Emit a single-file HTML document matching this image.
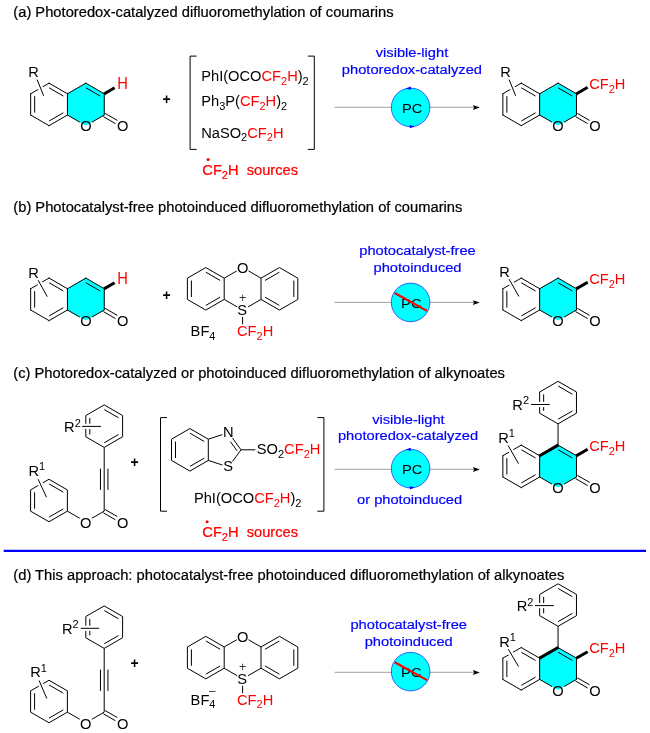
<!DOCTYPE html>
<html><head><meta charset="utf-8"><title>Difluoromethylation scheme</title>
<style>
html,body{margin:0;padding:0;background:#fff}
svg{display:block;will-change:transform}
text{font-family:"Liberation Sans",sans-serif;}
</style></head><body>
<svg width="650" height="733" viewBox="0 0 650 733">
<rect width="650" height="733" fill="#fff"/>
<text transform="translate(13.3 16.5) scale(1 0.94)" font-size="14.73" text-anchor="start" stroke-width="0.22" class="b"><tspan fill="#000" stroke="#000">(a) Photoredox-catalyzed difluoromethylation of coumarins</tspan></text>
<text transform="translate(13.3 211.5) scale(1 0.94)" font-size="14.73" text-anchor="start" stroke-width="0.22" class="b"><tspan fill="#000" stroke="#000">(b) Photocatalyst-free photoinduced difluoromethylation of coumarins</tspan></text>
<text transform="translate(13.3 377.5) scale(1 0.94)" font-size="14.73" text-anchor="start" stroke-width="0.22" class="b"><tspan fill="#000" stroke="#000">(c) Photoredox-catalyzed or photoinduced difluoromethylation of alkynoates</tspan></text>
<text transform="translate(13.3 579.9) scale(1 0.94)" font-size="14.73" text-anchor="start" stroke-width="0.22" class="b"><tspan fill="#000" stroke="#000">(d) This approach: photocatalyst-free photoinduced difluoromethylation of alkynoates</tspan></text>
<line x1="3.7" y1="550.8" x2="646" y2="550.8" stroke="#0000ff" stroke-width="2.2" stroke-linecap="butt"/>
<polygon points="85.86,83.15 104.26,93.78 104.26,115.03 85.86,125.65 67.45,115.03 67.45,93.78" fill="#00ffff"/>
<line x1="49.05" y1="83.15" x2="67.45" y2="93.78" stroke="#000" stroke-width="1" stroke-linecap="round"/>
<line x1="67.45" y1="93.78" x2="67.45" y2="115.03" stroke="#000" stroke-width="1" stroke-linecap="round"/>
<line x1="67.45" y1="115.03" x2="49.05" y2="125.65" stroke="#000" stroke-width="1" stroke-linecap="round"/>
<line x1="49.05" y1="125.65" x2="30.65" y2="115.03" stroke="#000" stroke-width="1" stroke-linecap="round"/>
<line x1="30.65" y1="115.03" x2="30.65" y2="93.78" stroke="#000" stroke-width="1" stroke-linecap="round"/>
<line x1="30.65" y1="93.78" x2="49.05" y2="83.15" stroke="#000" stroke-width="1" stroke-linecap="round"/>
<line x1="49.13" y1="87.81" x2="63.37" y2="96.04" stroke="#000" stroke-width="1" stroke-linecap="butt"/>
<line x1="63.37" y1="112.76" x2="49.13" y2="120.99" stroke="#000" stroke-width="1" stroke-linecap="butt"/>
<line x1="34.65" y1="112.62" x2="34.65" y2="96.18" stroke="#000" stroke-width="1" stroke-linecap="butt"/>
<line x1="67.45" y1="93.78" x2="85.86" y2="83.15" stroke="#000" stroke-width="1" stroke-linecap="round"/>
<line x1="85.86" y1="83.15" x2="104.26" y2="93.78" stroke="#000" stroke-width="1" stroke-linecap="round"/>
<line x1="85.93" y1="87.81" x2="100.18" y2="96.04" stroke="#000" stroke-width="1" stroke-linecap="butt"/>
<line x1="104.26" y1="93.78" x2="104.26" y2="115.03" stroke="#000" stroke-width="1" stroke-linecap="round"/>
<line x1="104.26" y1="115.03" x2="91.92" y2="122.15" stroke="#000" stroke-width="1" stroke-linecap="butt"/>
<line x1="67.45" y1="115.03" x2="79.79" y2="122.15" stroke="#000" stroke-width="1" stroke-linecap="butt"/>
<text transform="translate(85.86 131.4) scale(1 1.04)" font-size="14.67" text-anchor="middle"><tspan fill="#000">O</tspan></text>
<line x1="105.18" y1="113.42" x2="117.35" y2="120.45" stroke="#000" stroke-width="1" stroke-linecap="butt"/>
<line x1="103.33" y1="116.63" x2="115.5" y2="123.65" stroke="#000" stroke-width="1" stroke-linecap="butt"/>
<text transform="translate(122.66 131.4) scale(1 1.04)" font-size="14.67" text-anchor="middle"><tspan fill="#000">O</tspan></text>
<line x1="104" y1="93.93" x2="114.61" y2="87.8" stroke="#000" stroke-width="3" stroke-linecap="butt"/>
<text transform="translate(122.46 88.8) scale(1 1.1)" font-size="14.67" text-anchor="middle"><tspan fill="#ff0000">H</tspan></text>
<text transform="translate(28.35 76.8)" font-size="14.67" text-anchor="start"><tspan fill="#000">R</tspan></text>
<line x1="37.1" y1="79.6" x2="43.7" y2="95.8" stroke="#fff" stroke-width="5.2" stroke-linecap="butt"/>
<line x1="37.1" y1="79.6" x2="43.7" y2="95.8" stroke="#000" stroke-width="1" stroke-linecap="butt"/>
<text x="166.6" y="104.4" font-size="14" font-weight="bold" text-anchor="middle" fill="#000">+</text>
<path d="M196.6 56.1H190.1V149.4H196.6M307.8 56.1H314.3V149.4H307.8" fill="none" stroke="#000" stroke-width="1"/>
<text transform="translate(201.2 81)" font-size="14.67" text-anchor="start"><tspan fill="#000">PhI(OCO</tspan><tspan fill="#ff0000">CF</tspan><tspan fill="#ff0000" dy="3.7" font-size="11">2</tspan><tspan fill="#ff0000" dy="-3.7">H</tspan><tspan fill="#000">)</tspan><tspan fill="#000" dy="3.7" font-size="11">2</tspan></text>
<text transform="translate(201.2 106)" font-size="14.67" text-anchor="start"><tspan fill="#000">Ph</tspan><tspan fill="#000" dy="3.7" font-size="11">3</tspan><tspan fill="#000" dy="-3.7">P(</tspan><tspan fill="#ff0000">CF</tspan><tspan fill="#ff0000" dy="3.7" font-size="11">2</tspan><tspan fill="#ff0000" dy="-3.7">H</tspan><tspan fill="#000">)</tspan><tspan fill="#000" dy="3.7" font-size="11">2</tspan></text>
<text transform="translate(201.2 137.5)" font-size="14.67" text-anchor="start"><tspan fill="#000">NaSO</tspan><tspan fill="#000" dy="3.7" font-size="11">2</tspan><tspan fill="#ff0000" dy="-3.7">CF</tspan><tspan fill="#ff0000" dy="3.7" font-size="11">2</tspan><tspan fill="#ff0000" dy="-3.7">H</tspan></text>
<text transform="translate(202.3 175) scale(1 0.95)" font-size="14.67" text-anchor="start" stroke-width="0.25" class="b"><tspan fill="#ff0000" stroke="#ff0000">CF</tspan><tspan fill="#ff0000" stroke="#ff0000" dy="3.7" font-size="11">2</tspan><tspan fill="#ff0000" stroke="#ff0000" dy="-3.7">H  sources</tspan></text>
<circle cx="208.1" cy="159.5" r="1.5" fill="#ff0000"/>
<line x1="334.5" y1="107.3" x2="474" y2="107.3" stroke="#000" stroke-width="0.38" stroke-linecap="butt"/>
<path d="M479.8 107.5L472.9 105.1L474.1 107.5L472.9 109.9Z" fill="#000"/>
<circle cx="410.6" cy="107.4" r="19.3" fill="#00ffff" stroke="#0000ff" stroke-width="0.6"/>
<path d="M405.6 88.4L410.8 86.5L410.8 89.7Z M414.8 126.4L409.8 128.3L409.8 125.1Z" fill="#0000ff"/>
<text transform="translate(412.2 112.6) scale(1 0.93)" font-size="14.67" text-anchor="middle"><tspan fill="#000">PC</tspan></text>
<text transform="translate(412 56.9) scale(1 0.92)" font-size="14.67" text-anchor="middle" stroke-width="0.2" class="b"><tspan fill="#0000ff" stroke="#0000ff">visible-light</tspan></text>
<text transform="translate(411.9 73.9) scale(1 0.92)" font-size="14.67" text-anchor="middle" stroke-width="0.2" class="b"><tspan fill="#0000ff" stroke="#0000ff">photoredox-catalyzed</tspan></text>
<polygon points="558.06,83.15 576.46,93.78 576.46,115.03 558.06,125.65 539.65,115.03 539.65,93.78" fill="#00ffff"/>
<line x1="521.25" y1="83.15" x2="539.65" y2="93.78" stroke="#000" stroke-width="1" stroke-linecap="round"/>
<line x1="539.65" y1="93.78" x2="539.65" y2="115.03" stroke="#000" stroke-width="1" stroke-linecap="round"/>
<line x1="539.65" y1="115.03" x2="521.25" y2="125.65" stroke="#000" stroke-width="1" stroke-linecap="round"/>
<line x1="521.25" y1="125.65" x2="502.85" y2="115.03" stroke="#000" stroke-width="1" stroke-linecap="round"/>
<line x1="502.85" y1="115.03" x2="502.85" y2="93.78" stroke="#000" stroke-width="1" stroke-linecap="round"/>
<line x1="502.85" y1="93.78" x2="521.25" y2="83.15" stroke="#000" stroke-width="1" stroke-linecap="round"/>
<line x1="521.33" y1="87.81" x2="535.57" y2="96.04" stroke="#000" stroke-width="1" stroke-linecap="butt"/>
<line x1="535.57" y1="112.76" x2="521.33" y2="120.99" stroke="#000" stroke-width="1" stroke-linecap="butt"/>
<line x1="506.85" y1="112.62" x2="506.85" y2="96.18" stroke="#000" stroke-width="1" stroke-linecap="butt"/>
<line x1="539.65" y1="93.78" x2="558.06" y2="83.15" stroke="#000" stroke-width="1" stroke-linecap="round"/>
<line x1="558.06" y1="83.15" x2="576.46" y2="93.78" stroke="#000" stroke-width="1" stroke-linecap="round"/>
<line x1="558.13" y1="87.81" x2="572.38" y2="96.04" stroke="#000" stroke-width="1" stroke-linecap="butt"/>
<line x1="576.46" y1="93.78" x2="576.46" y2="115.03" stroke="#000" stroke-width="1" stroke-linecap="round"/>
<line x1="576.46" y1="115.03" x2="564.12" y2="122.15" stroke="#000" stroke-width="1" stroke-linecap="butt"/>
<line x1="539.65" y1="115.03" x2="551.99" y2="122.15" stroke="#000" stroke-width="1" stroke-linecap="butt"/>
<text transform="translate(558.06 131.4) scale(1 1.04)" font-size="14.67" text-anchor="middle"><tspan fill="#000">O</tspan></text>
<line x1="577.38" y1="113.42" x2="589.55" y2="120.45" stroke="#000" stroke-width="1" stroke-linecap="butt"/>
<line x1="575.53" y1="116.63" x2="587.7" y2="123.65" stroke="#000" stroke-width="1" stroke-linecap="butt"/>
<text transform="translate(594.86 131.4) scale(1 1.04)" font-size="14.67" text-anchor="middle"><tspan fill="#000">O</tspan></text>
<line x1="576.2" y1="93.93" x2="587.67" y2="87.3" stroke="#000" stroke-width="3" stroke-linecap="butt"/>
<text transform="translate(589.16 88.85)" font-size="14.67" text-anchor="start"><tspan fill="#ff0000">CF</tspan><tspan fill="#ff0000" dy="3.7" font-size="11">2</tspan><tspan fill="#ff0000" dy="-3.7">H</tspan></text>
<text transform="translate(500.35 76.8)" font-size="14.67" text-anchor="start"><tspan fill="#000">R</tspan></text>
<line x1="509.1" y1="79.6" x2="515.7" y2="95.8" stroke="#fff" stroke-width="5.2" stroke-linecap="butt"/>
<line x1="509.1" y1="79.6" x2="515.7" y2="95.8" stroke="#000" stroke-width="1" stroke-linecap="butt"/>
<polygon points="85.86,278.1 104.26,288.73 104.26,309.98 85.86,320.6 67.45,309.98 67.45,288.73" fill="#00ffff"/>
<line x1="49.05" y1="278.1" x2="67.45" y2="288.73" stroke="#000" stroke-width="1" stroke-linecap="round"/>
<line x1="67.45" y1="288.73" x2="67.45" y2="309.98" stroke="#000" stroke-width="1" stroke-linecap="round"/>
<line x1="67.45" y1="309.98" x2="49.05" y2="320.6" stroke="#000" stroke-width="1" stroke-linecap="round"/>
<line x1="49.05" y1="320.6" x2="30.65" y2="309.98" stroke="#000" stroke-width="1" stroke-linecap="round"/>
<line x1="30.65" y1="309.98" x2="30.65" y2="288.73" stroke="#000" stroke-width="1" stroke-linecap="round"/>
<line x1="30.65" y1="288.73" x2="49.05" y2="278.1" stroke="#000" stroke-width="1" stroke-linecap="round"/>
<line x1="49.13" y1="282.76" x2="63.37" y2="290.99" stroke="#000" stroke-width="1" stroke-linecap="butt"/>
<line x1="63.37" y1="307.71" x2="49.13" y2="315.94" stroke="#000" stroke-width="1" stroke-linecap="butt"/>
<line x1="34.65" y1="307.58" x2="34.65" y2="291.12" stroke="#000" stroke-width="1" stroke-linecap="butt"/>
<line x1="67.45" y1="288.73" x2="85.86" y2="278.1" stroke="#000" stroke-width="1" stroke-linecap="round"/>
<line x1="85.86" y1="278.1" x2="104.26" y2="288.73" stroke="#000" stroke-width="1" stroke-linecap="round"/>
<line x1="85.93" y1="282.76" x2="100.18" y2="290.99" stroke="#000" stroke-width="1" stroke-linecap="butt"/>
<line x1="104.26" y1="288.73" x2="104.26" y2="309.98" stroke="#000" stroke-width="1" stroke-linecap="round"/>
<line x1="104.26" y1="309.98" x2="91.92" y2="317.1" stroke="#000" stroke-width="1" stroke-linecap="butt"/>
<line x1="67.45" y1="309.98" x2="79.79" y2="317.1" stroke="#000" stroke-width="1" stroke-linecap="butt"/>
<text transform="translate(85.86 326.35) scale(1 1.04)" font-size="14.67" text-anchor="middle"><tspan fill="#000">O</tspan></text>
<line x1="105.18" y1="308.37" x2="117.35" y2="315.4" stroke="#000" stroke-width="1" stroke-linecap="butt"/>
<line x1="103.33" y1="311.58" x2="115.5" y2="318.6" stroke="#000" stroke-width="1" stroke-linecap="butt"/>
<text transform="translate(122.66 326.35) scale(1 1.04)" font-size="14.67" text-anchor="middle"><tspan fill="#000">O</tspan></text>
<line x1="104" y1="288.88" x2="114.61" y2="282.75" stroke="#000" stroke-width="3" stroke-linecap="butt"/>
<text transform="translate(122.46 283.75) scale(1 1.1)" font-size="14.67" text-anchor="middle"><tspan fill="#ff0000">H</tspan></text>
<text transform="translate(28.35 277.8)" font-size="14.67" text-anchor="start"><tspan fill="#000">R</tspan></text>
<line x1="38.1" y1="280.2" x2="47.3" y2="296.7" stroke="#fff" stroke-width="5.2" stroke-linecap="butt"/>
<line x1="38.1" y1="280.2" x2="47.3" y2="296.7" stroke="#000" stroke-width="1" stroke-linecap="butt"/>
<text x="166.6" y="299.6" font-size="14" font-weight="bold" text-anchor="middle" fill="#000">+</text>
<line x1="205.8" y1="267.55" x2="224.2" y2="278.18" stroke="#000" stroke-width="1" stroke-linecap="butt"/>
<line x1="224.2" y1="278.18" x2="224.2" y2="299.43" stroke="#000" stroke-width="1" stroke-linecap="butt"/>
<line x1="224.2" y1="299.43" x2="205.8" y2="310.05" stroke="#000" stroke-width="1" stroke-linecap="butt"/>
<line x1="205.8" y1="310.05" x2="187.4" y2="299.43" stroke="#000" stroke-width="1" stroke-linecap="butt"/>
<line x1="187.4" y1="299.43" x2="187.4" y2="278.18" stroke="#000" stroke-width="1" stroke-linecap="butt"/>
<line x1="187.4" y1="278.18" x2="205.8" y2="267.55" stroke="#000" stroke-width="1" stroke-linecap="butt"/>
<line x1="205.88" y1="272.21" x2="220.12" y2="280.44" stroke="#000" stroke-width="1" stroke-linecap="butt"/>
<line x1="220.12" y1="297.16" x2="205.88" y2="305.39" stroke="#000" stroke-width="1" stroke-linecap="butt"/>
<line x1="191.4" y1="297.03" x2="191.4" y2="280.57" stroke="#000" stroke-width="1" stroke-linecap="butt"/>
<line x1="279.41" y1="267.55" x2="297.82" y2="278.18" stroke="#000" stroke-width="1" stroke-linecap="butt"/>
<line x1="297.82" y1="278.18" x2="297.82" y2="299.43" stroke="#000" stroke-width="1" stroke-linecap="butt"/>
<line x1="297.82" y1="299.43" x2="279.41" y2="310.05" stroke="#000" stroke-width="1" stroke-linecap="butt"/>
<line x1="279.41" y1="310.05" x2="261.01" y2="299.43" stroke="#000" stroke-width="1" stroke-linecap="butt"/>
<line x1="261.01" y1="299.43" x2="261.01" y2="278.18" stroke="#000" stroke-width="1" stroke-linecap="butt"/>
<line x1="261.01" y1="278.18" x2="279.41" y2="267.55" stroke="#000" stroke-width="1" stroke-linecap="butt"/>
<line x1="293.82" y1="280.57" x2="293.82" y2="297.03" stroke="#000" stroke-width="1" stroke-linecap="butt"/>
<line x1="279.33" y1="305.39" x2="265.09" y2="297.16" stroke="#000" stroke-width="1" stroke-linecap="butt"/>
<line x1="265.09" y1="280.44" x2="279.33" y2="272.21" stroke="#000" stroke-width="1" stroke-linecap="butt"/>
<line x1="224.2" y1="278.18" x2="236.72" y2="270.95" stroke="#000" stroke-width="1" stroke-linecap="butt"/>
<line x1="261.01" y1="278.18" x2="248.5" y2="270.95" stroke="#000" stroke-width="1" stroke-linecap="butt"/>
<line x1="224.2" y1="299.43" x2="237.15" y2="306.9" stroke="#000" stroke-width="1" stroke-linecap="butt"/>
<line x1="261.01" y1="299.43" x2="248.06" y2="306.9" stroke="#000" stroke-width="1" stroke-linecap="butt"/>
<text transform="translate(242.61 273.4) scale(1 1.04)" font-size="14.67" text-anchor="middle"><tspan fill="#000">O</tspan></text>
<text transform="translate(242.11 315) scale(1 1.04)" font-size="14.67" text-anchor="middle"><tspan fill="#000">S</tspan></text>
<text transform="translate(242.71 302.15)" font-size="12.5" text-anchor="middle"><tspan fill="#333">+</tspan></text>
<line x1="242.61" y1="316.85" x2="242.61" y2="324.35" stroke="#000" stroke-width="1" stroke-linecap="butt"/>
<text transform="translate(237.01 336.05)" font-size="14.67" text-anchor="start"><tspan fill="#ff0000">CF</tspan><tspan fill="#ff0000" dy="3.7" font-size="11">2</tspan><tspan fill="#ff0000" dy="-3.7">H</tspan></text>
<text transform="translate(190.6 336.45)" font-size="14.67" text-anchor="start"><tspan fill="#000">BF</tspan><tspan fill="#000" dy="3.7" font-size="11">4</tspan></text>
<line x1="334.5" y1="302.4" x2="474" y2="302.4" stroke="#000" stroke-width="0.38" stroke-linecap="butt"/>
<path d="M479.8 302.6L472.9 300.2L474.1 302.6L472.9 305Z" fill="#000"/>
<circle cx="410.6" cy="302.4" r="19.3" fill="#00ffff" stroke="#0000ff" stroke-width="0.6"/>
<text transform="translate(411.3 307.6) scale(1 0.93)" font-size="14.67" text-anchor="middle"><tspan fill="#000">PC</tspan></text>
<line x1="394.7" y1="293" x2="427" y2="310.9" stroke="#ff0000" stroke-width="2.2" stroke-linecap="butt"/>
<text transform="translate(417.5 255) scale(1 0.92)" font-size="14.67" text-anchor="middle" stroke-width="0.2" class="b"><tspan fill="#0000ff" stroke="#0000ff">photocatalyst-free</tspan></text>
<text transform="translate(417.5 272.1) scale(1 0.92)" font-size="14.67" text-anchor="middle" stroke-width="0.2" class="b"><tspan fill="#0000ff" stroke="#0000ff">photoinduced</tspan></text>
<polygon points="558.06,278.1 576.46,288.73 576.46,309.98 558.06,320.6 539.65,309.98 539.65,288.73" fill="#00ffff"/>
<line x1="521.25" y1="278.1" x2="539.65" y2="288.73" stroke="#000" stroke-width="1" stroke-linecap="round"/>
<line x1="539.65" y1="288.73" x2="539.65" y2="309.98" stroke="#000" stroke-width="1" stroke-linecap="round"/>
<line x1="539.65" y1="309.98" x2="521.25" y2="320.6" stroke="#000" stroke-width="1" stroke-linecap="round"/>
<line x1="521.25" y1="320.6" x2="502.85" y2="309.98" stroke="#000" stroke-width="1" stroke-linecap="round"/>
<line x1="502.85" y1="309.98" x2="502.85" y2="288.73" stroke="#000" stroke-width="1" stroke-linecap="round"/>
<line x1="502.85" y1="288.73" x2="521.25" y2="278.1" stroke="#000" stroke-width="1" stroke-linecap="round"/>
<line x1="521.33" y1="282.76" x2="535.57" y2="290.99" stroke="#000" stroke-width="1" stroke-linecap="butt"/>
<line x1="535.57" y1="307.71" x2="521.33" y2="315.94" stroke="#000" stroke-width="1" stroke-linecap="butt"/>
<line x1="506.85" y1="307.58" x2="506.85" y2="291.12" stroke="#000" stroke-width="1" stroke-linecap="butt"/>
<line x1="539.65" y1="288.73" x2="558.06" y2="278.1" stroke="#000" stroke-width="1" stroke-linecap="round"/>
<line x1="558.06" y1="278.1" x2="576.46" y2="288.73" stroke="#000" stroke-width="1" stroke-linecap="round"/>
<line x1="558.13" y1="282.76" x2="572.38" y2="290.99" stroke="#000" stroke-width="1" stroke-linecap="butt"/>
<line x1="576.46" y1="288.73" x2="576.46" y2="309.98" stroke="#000" stroke-width="1" stroke-linecap="round"/>
<line x1="576.46" y1="309.98" x2="564.12" y2="317.1" stroke="#000" stroke-width="1" stroke-linecap="butt"/>
<line x1="539.65" y1="309.98" x2="551.99" y2="317.1" stroke="#000" stroke-width="1" stroke-linecap="butt"/>
<text transform="translate(558.06 326.35) scale(1 1.04)" font-size="14.67" text-anchor="middle"><tspan fill="#000">O</tspan></text>
<line x1="577.38" y1="308.37" x2="589.55" y2="315.4" stroke="#000" stroke-width="1" stroke-linecap="butt"/>
<line x1="575.53" y1="311.58" x2="587.7" y2="318.6" stroke="#000" stroke-width="1" stroke-linecap="butt"/>
<text transform="translate(594.86 326.35) scale(1 1.04)" font-size="14.67" text-anchor="middle"><tspan fill="#000">O</tspan></text>
<line x1="576.2" y1="288.88" x2="587.67" y2="282.25" stroke="#000" stroke-width="3" stroke-linecap="butt"/>
<text transform="translate(589.16 283.8)" font-size="14.67" text-anchor="start"><tspan fill="#ff0000">CF</tspan><tspan fill="#ff0000" dy="3.7" font-size="11">2</tspan><tspan fill="#ff0000" dy="-3.7">H</tspan></text>
<text transform="translate(499.35 276.7)" font-size="14.67" text-anchor="start"><tspan fill="#000">R</tspan></text>
<line x1="509.1" y1="279.2" x2="518.9" y2="296.5" stroke="#fff" stroke-width="5.2" stroke-linecap="butt"/>
<line x1="509.1" y1="279.2" x2="518.9" y2="296.5" stroke="#000" stroke-width="1" stroke-linecap="butt"/>
<line x1="104.2" y1="404.9" x2="122.6" y2="415.52" stroke="#000" stroke-width="1" stroke-linecap="butt"/>
<line x1="122.6" y1="415.52" x2="122.6" y2="436.77" stroke="#000" stroke-width="1" stroke-linecap="butt"/>
<line x1="122.6" y1="436.77" x2="104.2" y2="447.4" stroke="#000" stroke-width="1" stroke-linecap="butt"/>
<line x1="104.2" y1="447.4" x2="85.8" y2="436.77" stroke="#000" stroke-width="1" stroke-linecap="butt"/>
<line x1="85.8" y1="436.77" x2="85.8" y2="415.52" stroke="#000" stroke-width="1" stroke-linecap="butt"/>
<line x1="85.8" y1="415.52" x2="104.2" y2="404.9" stroke="#000" stroke-width="1" stroke-linecap="butt"/>
<line x1="104.28" y1="409.56" x2="118.52" y2="417.79" stroke="#000" stroke-width="1" stroke-linecap="butt"/>
<line x1="118.52" y1="434.51" x2="104.28" y2="442.74" stroke="#000" stroke-width="1" stroke-linecap="butt"/>
<line x1="89.8" y1="434.38" x2="89.8" y2="417.92" stroke="#000" stroke-width="1" stroke-linecap="butt"/>
<line x1="104.2" y1="447.4" x2="104.2" y2="511.15" stroke="#000" stroke-width="1" stroke-linecap="butt"/>
<line x1="100.45" y1="468.65" x2="100.45" y2="489.9" stroke="#000" stroke-width="1" stroke-linecap="butt"/>
<line x1="107.95" y1="468.65" x2="107.95" y2="489.9" stroke="#000" stroke-width="1" stroke-linecap="butt"/>
<line x1="104.2" y1="511.15" x2="91.86" y2="518.27" stroke="#000" stroke-width="1" stroke-linecap="butt"/>
<line x1="105.12" y1="509.55" x2="117.29" y2="516.57" stroke="#000" stroke-width="1" stroke-linecap="butt"/>
<line x1="103.28" y1="512.75" x2="115.44" y2="519.78" stroke="#000" stroke-width="1" stroke-linecap="butt"/>
<text transform="translate(85.8 527.52) scale(1 1.04)" font-size="14.67" text-anchor="middle"><tspan fill="#000">O</tspan></text>
<text transform="translate(122.6 527.52) scale(1 1.04)" font-size="14.67" text-anchor="middle"><tspan fill="#000">O</tspan></text>
<line x1="79.73" y1="518.27" x2="67.39" y2="511.15" stroke="#000" stroke-width="1" stroke-linecap="butt"/>
<line x1="48.99" y1="479.27" x2="67.39" y2="489.9" stroke="#000" stroke-width="1" stroke-linecap="butt"/>
<line x1="67.39" y1="489.9" x2="67.39" y2="511.15" stroke="#000" stroke-width="1" stroke-linecap="butt"/>
<line x1="67.39" y1="511.15" x2="48.99" y2="521.77" stroke="#000" stroke-width="1" stroke-linecap="butt"/>
<line x1="48.99" y1="521.77" x2="30.59" y2="511.15" stroke="#000" stroke-width="1" stroke-linecap="butt"/>
<line x1="30.59" y1="511.15" x2="30.59" y2="489.9" stroke="#000" stroke-width="1" stroke-linecap="butt"/>
<line x1="30.59" y1="489.9" x2="48.99" y2="479.27" stroke="#000" stroke-width="1" stroke-linecap="butt"/>
<line x1="49.07" y1="483.94" x2="63.32" y2="492.16" stroke="#000" stroke-width="1" stroke-linecap="butt"/>
<line x1="63.32" y1="508.89" x2="49.07" y2="517.11" stroke="#000" stroke-width="1" stroke-linecap="butt"/>
<line x1="34.59" y1="508.75" x2="34.59" y2="492.3" stroke="#000" stroke-width="1" stroke-linecap="butt"/>
<text transform="translate(64.1 432.1)" font-size="14.67" text-anchor="start"><tspan fill="#000">R</tspan><tspan fill="#000" dy="-5.3" font-size="11">2</tspan></text>
<line x1="82.1" y1="426.4" x2="101" y2="426.4" stroke="#fff" stroke-width="5.2" stroke-linecap="butt"/>
<line x1="82.1" y1="426.4" x2="101" y2="426.4" stroke="#000" stroke-width="1" stroke-linecap="butt"/>
<text transform="translate(28.45 476.1)" font-size="14.67" text-anchor="start"><tspan fill="#000">R</tspan><tspan fill="#000" dy="-6.2" font-size="11">1</tspan></text>
<line x1="38.1" y1="479.2" x2="46.5" y2="497.2" stroke="#fff" stroke-width="5.2" stroke-linecap="butt"/>
<line x1="38.1" y1="479.2" x2="46.5" y2="497.2" stroke="#000" stroke-width="1" stroke-linecap="butt"/>
<text x="134.7" y="466.5" font-size="14" font-weight="bold" text-anchor="middle" fill="#000">+</text>
<path d="M167 417.6H160.5V511.2H167M317.4 417.6H323.9V511.2H317.4" fill="none" stroke="#000" stroke-width="1"/>
<line x1="189.9" y1="428.55" x2="208.3" y2="439.18" stroke="#000" stroke-width="1" stroke-linecap="butt"/>
<line x1="208.3" y1="439.18" x2="208.3" y2="460.43" stroke="#000" stroke-width="1" stroke-linecap="butt"/>
<line x1="208.3" y1="460.43" x2="189.9" y2="471.05" stroke="#000" stroke-width="1" stroke-linecap="butt"/>
<line x1="189.9" y1="471.05" x2="171.5" y2="460.43" stroke="#000" stroke-width="1" stroke-linecap="butt"/>
<line x1="171.5" y1="460.43" x2="171.5" y2="439.18" stroke="#000" stroke-width="1" stroke-linecap="butt"/>
<line x1="171.5" y1="439.18" x2="189.9" y2="428.55" stroke="#000" stroke-width="1" stroke-linecap="butt"/>
<line x1="189.98" y1="433.21" x2="204.22" y2="441.44" stroke="#000" stroke-width="1" stroke-linecap="butt"/>
<line x1="204.22" y1="458.16" x2="189.98" y2="466.39" stroke="#000" stroke-width="1" stroke-linecap="butt"/>
<line x1="175.5" y1="458.03" x2="175.5" y2="441.57" stroke="#000" stroke-width="1" stroke-linecap="butt"/>
<line x1="208.3" y1="439.18" x2="222.33" y2="434.62" stroke="#000" stroke-width="1" stroke-linecap="butt"/>
<line x1="232.51" y1="438.11" x2="241" y2="449.8" stroke="#000" stroke-width="1" stroke-linecap="butt"/>
<line x1="230.32" y1="441.56" x2="237.05" y2="450.82" stroke="#000" stroke-width="1" stroke-linecap="butt"/>
<line x1="241" y1="449.8" x2="232.51" y2="461.49" stroke="#000" stroke-width="1" stroke-linecap="butt"/>
<line x1="208.3" y1="460.43" x2="222.52" y2="465.04" stroke="#000" stroke-width="1" stroke-linecap="butt"/>
<text transform="translate(228.21 437.06) scale(1 1.04)" font-size="14.67" text-anchor="middle"><tspan fill="#000">N</tspan></text>
<text transform="translate(228.21 471.34) scale(1 1.04)" font-size="14.67" text-anchor="middle"><tspan fill="#000">S</tspan></text>
<line x1="241" y1="449.8" x2="255.3" y2="449.8" stroke="#000" stroke-width="1" stroke-linecap="butt"/>
<text transform="translate(256.8 453.9)" font-size="14.67" text-anchor="start"><tspan fill="#000">SO</tspan><tspan fill="#000" dy="3.7" font-size="11">2</tspan><tspan fill="#ff0000" dy="-3.7">CF</tspan><tspan fill="#ff0000" dy="3.7" font-size="11">2</tspan><tspan fill="#ff0000" dy="-3.7">H</tspan></text>
<text transform="translate(193.9 503.2)" font-size="14.67" text-anchor="start"><tspan fill="#000">PhI(OCO</tspan><tspan fill="#ff0000">CF</tspan><tspan fill="#ff0000" dy="3.7" font-size="11">2</tspan><tspan fill="#ff0000" dy="-3.7">H</tspan><tspan fill="#000">)</tspan><tspan fill="#000" dy="3.7" font-size="11">2</tspan></text>
<text transform="translate(202.3 537.2) scale(1 0.95)" font-size="14.67" text-anchor="start" stroke-width="0.25" class="b"><tspan fill="#ff0000" stroke="#ff0000">CF</tspan><tspan fill="#ff0000" stroke="#ff0000" dy="3.7" font-size="11">2</tspan><tspan fill="#ff0000" stroke="#ff0000" dy="-3.7">H  sources</tspan></text>
<circle cx="207.1" cy="521.7" r="1.5" fill="#ff0000"/>
<line x1="334.5" y1="469.3" x2="474" y2="469.3" stroke="#000" stroke-width="0.38" stroke-linecap="butt"/>
<path d="M479.8 469.5L472.9 467.1L474.1 469.5L472.9 471.9Z" fill="#000"/>
<circle cx="410.6" cy="468.6" r="19.3" fill="#00ffff" stroke="#0000ff" stroke-width="0.6"/>
<path d="M405.6 449.6L410.8 447.7L410.8 450.9Z M414.8 487.6L409.8 489.5L409.8 486.3Z" fill="#0000ff"/>
<text transform="translate(412.2 473.8) scale(1 0.93)" font-size="14.67" text-anchor="middle"><tspan fill="#000">PC</tspan></text>
<text transform="translate(408.4 423.8) scale(1 0.92)" font-size="14.67" text-anchor="middle" stroke-width="0.2" class="b"><tspan fill="#0000ff" stroke="#0000ff">visible-light</tspan></text>
<text transform="translate(408 440.1) scale(1 0.92)" font-size="14.67" text-anchor="middle" stroke-width="0.2" class="b"><tspan fill="#0000ff" stroke="#0000ff">photoredox-catalyzed</tspan></text>
<text transform="translate(409.6 503.6) scale(1 0.92)" font-size="14.67" text-anchor="middle" stroke-width="0.2" class="b"><tspan fill="#0000ff" stroke="#0000ff">or photoinduced</tspan></text>
<polygon points="558.06,445.1 576.46,455.73 576.46,476.98 558.06,487.6 539.65,476.98 539.65,455.73" fill="#00ffff"/>
<line x1="521.25" y1="445.1" x2="539.65" y2="455.73" stroke="#000" stroke-width="1" stroke-linecap="round"/>
<line x1="539.65" y1="455.73" x2="539.65" y2="476.98" stroke="#000" stroke-width="1" stroke-linecap="round"/>
<line x1="539.65" y1="476.98" x2="521.25" y2="487.6" stroke="#000" stroke-width="1" stroke-linecap="round"/>
<line x1="521.25" y1="487.6" x2="502.85" y2="476.98" stroke="#000" stroke-width="1" stroke-linecap="round"/>
<line x1="502.85" y1="476.98" x2="502.85" y2="455.73" stroke="#000" stroke-width="1" stroke-linecap="round"/>
<line x1="502.85" y1="455.73" x2="521.25" y2="445.1" stroke="#000" stroke-width="1" stroke-linecap="round"/>
<line x1="521.33" y1="449.76" x2="535.57" y2="457.99" stroke="#000" stroke-width="1" stroke-linecap="butt"/>
<line x1="535.57" y1="474.71" x2="521.33" y2="482.94" stroke="#000" stroke-width="1" stroke-linecap="butt"/>
<line x1="506.85" y1="474.58" x2="506.85" y2="458.12" stroke="#000" stroke-width="1" stroke-linecap="butt"/>
<line x1="539.22" y1="455.98" x2="558.49" y2="444.85" stroke="#000" stroke-width="3" stroke-linecap="butt"/>
<line x1="558.06" y1="445.1" x2="576.46" y2="455.73" stroke="#000" stroke-width="1" stroke-linecap="round"/>
<line x1="558.13" y1="449.76" x2="572.38" y2="457.99" stroke="#000" stroke-width="1" stroke-linecap="butt"/>
<line x1="576.46" y1="455.73" x2="576.46" y2="476.98" stroke="#000" stroke-width="1" stroke-linecap="round"/>
<line x1="576.46" y1="476.98" x2="564.12" y2="484.1" stroke="#000" stroke-width="1" stroke-linecap="butt"/>
<line x1="539.65" y1="476.98" x2="551.99" y2="484.1" stroke="#000" stroke-width="1" stroke-linecap="butt"/>
<text transform="translate(558.06 493.35) scale(1 1.04)" font-size="14.67" text-anchor="middle"><tspan fill="#000">O</tspan></text>
<line x1="577.38" y1="475.37" x2="589.55" y2="482.4" stroke="#000" stroke-width="1" stroke-linecap="butt"/>
<line x1="575.53" y1="478.58" x2="587.7" y2="485.6" stroke="#000" stroke-width="1" stroke-linecap="butt"/>
<text transform="translate(594.86 493.35) scale(1 1.04)" font-size="14.67" text-anchor="middle"><tspan fill="#000">O</tspan></text>
<line x1="576.2" y1="455.88" x2="587.67" y2="449.25" stroke="#000" stroke-width="3" stroke-linecap="butt"/>
<text transform="translate(589.16 450.8)" font-size="14.67" text-anchor="start"><tspan fill="#ff0000">CF</tspan><tspan fill="#ff0000" dy="3.7" font-size="11">2</tspan><tspan fill="#ff0000" dy="-3.7">H</tspan></text>
<line x1="558.06" y1="445.1" x2="558.06" y2="423.85" stroke="#000" stroke-width="1" stroke-linecap="butt"/>
<line x1="558.06" y1="381.35" x2="576.46" y2="391.98" stroke="#000" stroke-width="1" stroke-linecap="butt"/>
<line x1="576.46" y1="391.98" x2="576.46" y2="413.23" stroke="#000" stroke-width="1" stroke-linecap="butt"/>
<line x1="576.46" y1="413.23" x2="558.06" y2="423.85" stroke="#000" stroke-width="1" stroke-linecap="butt"/>
<line x1="558.06" y1="423.85" x2="539.65" y2="413.23" stroke="#000" stroke-width="1" stroke-linecap="butt"/>
<line x1="539.65" y1="413.23" x2="539.65" y2="391.98" stroke="#000" stroke-width="1" stroke-linecap="butt"/>
<line x1="539.65" y1="391.98" x2="558.06" y2="381.35" stroke="#000" stroke-width="1" stroke-linecap="butt"/>
<line x1="558.13" y1="386.01" x2="572.38" y2="394.24" stroke="#000" stroke-width="1" stroke-linecap="butt"/>
<line x1="572.38" y1="410.96" x2="558.13" y2="419.19" stroke="#000" stroke-width="1" stroke-linecap="butt"/>
<line x1="543.65" y1="410.83" x2="543.65" y2="394.38" stroke="#000" stroke-width="1" stroke-linecap="butt"/>
<text transform="translate(512.35 410)" font-size="14.67" text-anchor="start"><tspan fill="#000">R</tspan><tspan fill="#000" dy="-5.7" font-size="11">2</tspan></text>
<line x1="531" y1="404.5" x2="549.6" y2="404.5" stroke="#fff" stroke-width="5.2" stroke-linecap="butt"/>
<line x1="531" y1="404.5" x2="549.6" y2="404.5" stroke="#000" stroke-width="1" stroke-linecap="butt"/>
<text transform="translate(498.15 443.1)" font-size="14.67" text-anchor="start"><tspan fill="#000">R</tspan><tspan fill="#000" dy="-6.2" font-size="11">1</tspan></text>
<line x1="508.15" y1="445.5" x2="518.5" y2="463.7" stroke="#fff" stroke-width="5.2" stroke-linecap="butt"/>
<line x1="508.15" y1="445.5" x2="518.5" y2="463.7" stroke="#000" stroke-width="1" stroke-linecap="butt"/>
<line x1="104.2" y1="605.9" x2="122.6" y2="616.52" stroke="#000" stroke-width="1" stroke-linecap="butt"/>
<line x1="122.6" y1="616.52" x2="122.6" y2="637.77" stroke="#000" stroke-width="1" stroke-linecap="butt"/>
<line x1="122.6" y1="637.77" x2="104.2" y2="648.4" stroke="#000" stroke-width="1" stroke-linecap="butt"/>
<line x1="104.2" y1="648.4" x2="85.8" y2="637.77" stroke="#000" stroke-width="1" stroke-linecap="butt"/>
<line x1="85.8" y1="637.77" x2="85.8" y2="616.52" stroke="#000" stroke-width="1" stroke-linecap="butt"/>
<line x1="85.8" y1="616.52" x2="104.2" y2="605.9" stroke="#000" stroke-width="1" stroke-linecap="butt"/>
<line x1="104.28" y1="610.56" x2="118.52" y2="618.79" stroke="#000" stroke-width="1" stroke-linecap="butt"/>
<line x1="118.52" y1="635.51" x2="104.28" y2="643.74" stroke="#000" stroke-width="1" stroke-linecap="butt"/>
<line x1="89.8" y1="635.38" x2="89.8" y2="618.92" stroke="#000" stroke-width="1" stroke-linecap="butt"/>
<line x1="104.2" y1="648.4" x2="104.2" y2="712.15" stroke="#000" stroke-width="1" stroke-linecap="butt"/>
<line x1="100.45" y1="669.65" x2="100.45" y2="690.9" stroke="#000" stroke-width="1" stroke-linecap="butt"/>
<line x1="107.95" y1="669.65" x2="107.95" y2="690.9" stroke="#000" stroke-width="1" stroke-linecap="butt"/>
<line x1="104.2" y1="712.15" x2="91.86" y2="719.27" stroke="#000" stroke-width="1" stroke-linecap="butt"/>
<line x1="105.12" y1="710.55" x2="117.29" y2="717.57" stroke="#000" stroke-width="1" stroke-linecap="butt"/>
<line x1="103.28" y1="713.75" x2="115.44" y2="720.78" stroke="#000" stroke-width="1" stroke-linecap="butt"/>
<text transform="translate(85.8 728.52) scale(1 1.04)" font-size="14.67" text-anchor="middle"><tspan fill="#000">O</tspan></text>
<text transform="translate(122.6 728.52) scale(1 1.04)" font-size="14.67" text-anchor="middle"><tspan fill="#000">O</tspan></text>
<line x1="79.73" y1="719.27" x2="67.39" y2="712.15" stroke="#000" stroke-width="1" stroke-linecap="butt"/>
<line x1="48.99" y1="680.27" x2="67.39" y2="690.9" stroke="#000" stroke-width="1" stroke-linecap="butt"/>
<line x1="67.39" y1="690.9" x2="67.39" y2="712.15" stroke="#000" stroke-width="1" stroke-linecap="butt"/>
<line x1="67.39" y1="712.15" x2="48.99" y2="722.77" stroke="#000" stroke-width="1" stroke-linecap="butt"/>
<line x1="48.99" y1="722.77" x2="30.59" y2="712.15" stroke="#000" stroke-width="1" stroke-linecap="butt"/>
<line x1="30.59" y1="712.15" x2="30.59" y2="690.9" stroke="#000" stroke-width="1" stroke-linecap="butt"/>
<line x1="30.59" y1="690.9" x2="48.99" y2="680.27" stroke="#000" stroke-width="1" stroke-linecap="butt"/>
<line x1="49.07" y1="684.94" x2="63.32" y2="693.16" stroke="#000" stroke-width="1" stroke-linecap="butt"/>
<line x1="63.32" y1="709.89" x2="49.07" y2="718.11" stroke="#000" stroke-width="1" stroke-linecap="butt"/>
<line x1="34.59" y1="709.75" x2="34.59" y2="693.3" stroke="#000" stroke-width="1" stroke-linecap="butt"/>
<text transform="translate(61.95 634)" font-size="14.67" text-anchor="start"><tspan fill="#000">R</tspan><tspan fill="#000" dy="-5.6" font-size="11">2</tspan></text>
<line x1="80.8" y1="628.3" x2="99.2" y2="628.3" stroke="#fff" stroke-width="5.2" stroke-linecap="butt"/>
<line x1="80.8" y1="628.3" x2="99.2" y2="628.3" stroke="#000" stroke-width="1" stroke-linecap="butt"/>
<text transform="translate(30.25 677.45)" font-size="14.67" text-anchor="start"><tspan fill="#000">R</tspan><tspan fill="#000" dy="-5.8" font-size="11">1</tspan></text>
<line x1="39.1" y1="680.5" x2="46.8" y2="698.5" stroke="#fff" stroke-width="5.2" stroke-linecap="butt"/>
<line x1="39.1" y1="680.5" x2="46.8" y2="698.5" stroke="#000" stroke-width="1" stroke-linecap="butt"/>
<text x="134.7" y="667.8" font-size="14" font-weight="bold" text-anchor="middle" fill="#000">+</text>
<line x1="205.8" y1="636.35" x2="224.2" y2="646.98" stroke="#000" stroke-width="1" stroke-linecap="butt"/>
<line x1="224.2" y1="646.98" x2="224.2" y2="668.23" stroke="#000" stroke-width="1" stroke-linecap="butt"/>
<line x1="224.2" y1="668.23" x2="205.8" y2="678.85" stroke="#000" stroke-width="1" stroke-linecap="butt"/>
<line x1="205.8" y1="678.85" x2="187.4" y2="668.23" stroke="#000" stroke-width="1" stroke-linecap="butt"/>
<line x1="187.4" y1="668.23" x2="187.4" y2="646.98" stroke="#000" stroke-width="1" stroke-linecap="butt"/>
<line x1="187.4" y1="646.98" x2="205.8" y2="636.35" stroke="#000" stroke-width="1" stroke-linecap="butt"/>
<line x1="205.88" y1="641.01" x2="220.12" y2="649.24" stroke="#000" stroke-width="1" stroke-linecap="butt"/>
<line x1="220.12" y1="665.96" x2="205.88" y2="674.19" stroke="#000" stroke-width="1" stroke-linecap="butt"/>
<line x1="191.4" y1="665.83" x2="191.4" y2="649.38" stroke="#000" stroke-width="1" stroke-linecap="butt"/>
<line x1="279.41" y1="636.35" x2="297.82" y2="646.98" stroke="#000" stroke-width="1" stroke-linecap="butt"/>
<line x1="297.82" y1="646.98" x2="297.82" y2="668.23" stroke="#000" stroke-width="1" stroke-linecap="butt"/>
<line x1="297.82" y1="668.23" x2="279.41" y2="678.85" stroke="#000" stroke-width="1" stroke-linecap="butt"/>
<line x1="279.41" y1="678.85" x2="261.01" y2="668.23" stroke="#000" stroke-width="1" stroke-linecap="butt"/>
<line x1="261.01" y1="668.23" x2="261.01" y2="646.98" stroke="#000" stroke-width="1" stroke-linecap="butt"/>
<line x1="261.01" y1="646.98" x2="279.41" y2="636.35" stroke="#000" stroke-width="1" stroke-linecap="butt"/>
<line x1="293.82" y1="649.38" x2="293.82" y2="665.83" stroke="#000" stroke-width="1" stroke-linecap="butt"/>
<line x1="279.33" y1="674.19" x2="265.09" y2="665.96" stroke="#000" stroke-width="1" stroke-linecap="butt"/>
<line x1="265.09" y1="649.24" x2="279.33" y2="641.01" stroke="#000" stroke-width="1" stroke-linecap="butt"/>
<line x1="224.2" y1="646.98" x2="236.72" y2="639.75" stroke="#000" stroke-width="1" stroke-linecap="butt"/>
<line x1="261.01" y1="646.98" x2="248.5" y2="639.75" stroke="#000" stroke-width="1" stroke-linecap="butt"/>
<line x1="224.2" y1="668.23" x2="237.15" y2="675.7" stroke="#000" stroke-width="1" stroke-linecap="butt"/>
<line x1="261.01" y1="668.23" x2="248.06" y2="675.7" stroke="#000" stroke-width="1" stroke-linecap="butt"/>
<text transform="translate(242.61 642.2) scale(1 1.04)" font-size="14.67" text-anchor="middle"><tspan fill="#000">O</tspan></text>
<text transform="translate(242.11 684.3) scale(1 1.04)" font-size="14.67" text-anchor="middle"><tspan fill="#000">S</tspan></text>
<text transform="translate(242.71 670.95)" font-size="12.5" text-anchor="middle"><tspan fill="#333">+</tspan></text>
<line x1="242.61" y1="685.65" x2="242.61" y2="693.15" stroke="#000" stroke-width="1" stroke-linecap="butt"/>
<text transform="translate(237.01 704.55)" font-size="14.67" text-anchor="start"><tspan fill="#ff0000">CF</tspan><tspan fill="#ff0000" dy="3.7" font-size="11">2</tspan><tspan fill="#ff0000" dy="-3.7">H</tspan></text>
<text transform="translate(190.6 704.55)" font-size="14.67" text-anchor="start"><tspan fill="#000">BF</tspan><tspan fill="#000" dy="3.7" font-size="11">4</tspan></text>
<text transform="translate(212.4 696.05)" font-size="13.5" text-anchor="middle"><tspan fill="#444">−</tspan></text>
<line x1="334.5" y1="672.3" x2="474" y2="672.3" stroke="#000" stroke-width="0.38" stroke-linecap="butt"/>
<path d="M479.8 672.5L472.9 670.1L474.1 672.5L472.9 674.9Z" fill="#000"/>
<circle cx="410.6" cy="671.6" r="19.3" fill="#00ffff" stroke="#0000ff" stroke-width="0.6"/>
<text transform="translate(411.3 676.8) scale(1 0.93)" font-size="14.67" text-anchor="middle"><tspan fill="#000">PC</tspan></text>
<line x1="394.7" y1="662.2" x2="427" y2="680.1" stroke="#ff0000" stroke-width="2.2" stroke-linecap="butt"/>
<text transform="translate(408.7 629.4) scale(1 0.92)" font-size="14.67" text-anchor="middle" stroke-width="0.2" class="b"><tspan fill="#0000ff" stroke="#0000ff">photocatalyst-free</tspan></text>
<text transform="translate(408.7 646.2) scale(1 0.92)" font-size="14.67" text-anchor="middle" stroke-width="0.2" class="b"><tspan fill="#0000ff" stroke="#0000ff">photoinduced</tspan></text>
<polygon points="558.06,647.55 576.46,658.17 576.46,679.42 558.06,690.05 539.65,679.42 539.65,658.17" fill="#00ffff"/>
<line x1="521.25" y1="647.55" x2="539.65" y2="658.17" stroke="#000" stroke-width="1" stroke-linecap="round"/>
<line x1="539.65" y1="658.17" x2="539.65" y2="679.42" stroke="#000" stroke-width="1" stroke-linecap="round"/>
<line x1="539.65" y1="679.42" x2="521.25" y2="690.05" stroke="#000" stroke-width="1" stroke-linecap="round"/>
<line x1="521.25" y1="690.05" x2="502.85" y2="679.42" stroke="#000" stroke-width="1" stroke-linecap="round"/>
<line x1="502.85" y1="679.42" x2="502.85" y2="658.17" stroke="#000" stroke-width="1" stroke-linecap="round"/>
<line x1="502.85" y1="658.17" x2="521.25" y2="647.55" stroke="#000" stroke-width="1" stroke-linecap="round"/>
<line x1="521.33" y1="652.21" x2="535.57" y2="660.44" stroke="#000" stroke-width="1" stroke-linecap="butt"/>
<line x1="535.57" y1="677.16" x2="521.33" y2="685.39" stroke="#000" stroke-width="1" stroke-linecap="butt"/>
<line x1="506.85" y1="677.02" x2="506.85" y2="660.57" stroke="#000" stroke-width="1" stroke-linecap="butt"/>
<line x1="539.22" y1="658.42" x2="558.49" y2="647.3" stroke="#000" stroke-width="3" stroke-linecap="butt"/>
<line x1="558.06" y1="647.55" x2="576.46" y2="658.17" stroke="#000" stroke-width="1" stroke-linecap="round"/>
<line x1="558.13" y1="652.21" x2="572.38" y2="660.44" stroke="#000" stroke-width="1" stroke-linecap="butt"/>
<line x1="576.46" y1="658.17" x2="576.46" y2="679.42" stroke="#000" stroke-width="1" stroke-linecap="round"/>
<line x1="576.46" y1="679.42" x2="564.12" y2="686.55" stroke="#000" stroke-width="1" stroke-linecap="butt"/>
<line x1="539.65" y1="679.42" x2="551.99" y2="686.55" stroke="#000" stroke-width="1" stroke-linecap="butt"/>
<text transform="translate(558.06 695.8) scale(1 1.04)" font-size="14.67" text-anchor="middle"><tspan fill="#000">O</tspan></text>
<line x1="577.38" y1="677.82" x2="589.55" y2="684.85" stroke="#000" stroke-width="1" stroke-linecap="butt"/>
<line x1="575.53" y1="681.03" x2="587.7" y2="688.05" stroke="#000" stroke-width="1" stroke-linecap="butt"/>
<text transform="translate(594.86 695.8) scale(1 1.04)" font-size="14.67" text-anchor="middle"><tspan fill="#000">O</tspan></text>
<line x1="576.2" y1="658.32" x2="587.67" y2="651.7" stroke="#000" stroke-width="3" stroke-linecap="butt"/>
<text transform="translate(589.16 653.25)" font-size="14.67" text-anchor="start"><tspan fill="#ff0000">CF</tspan><tspan fill="#ff0000" dy="3.7" font-size="11">2</tspan><tspan fill="#ff0000" dy="-3.7">H</tspan></text>
<line x1="558.06" y1="647.55" x2="558.06" y2="626.3" stroke="#000" stroke-width="1" stroke-linecap="butt"/>
<line x1="558.06" y1="583.8" x2="576.46" y2="594.42" stroke="#000" stroke-width="1" stroke-linecap="butt"/>
<line x1="576.46" y1="594.42" x2="576.46" y2="615.67" stroke="#000" stroke-width="1" stroke-linecap="butt"/>
<line x1="576.46" y1="615.67" x2="558.06" y2="626.3" stroke="#000" stroke-width="1" stroke-linecap="butt"/>
<line x1="558.06" y1="626.3" x2="539.65" y2="615.67" stroke="#000" stroke-width="1" stroke-linecap="butt"/>
<line x1="539.65" y1="615.67" x2="539.65" y2="594.42" stroke="#000" stroke-width="1" stroke-linecap="butt"/>
<line x1="539.65" y1="594.42" x2="558.06" y2="583.8" stroke="#000" stroke-width="1" stroke-linecap="butt"/>
<line x1="558.13" y1="588.46" x2="572.38" y2="596.69" stroke="#000" stroke-width="1" stroke-linecap="butt"/>
<line x1="572.38" y1="613.41" x2="558.13" y2="621.64" stroke="#000" stroke-width="1" stroke-linecap="butt"/>
<line x1="543.65" y1="613.27" x2="543.65" y2="596.82" stroke="#000" stroke-width="1" stroke-linecap="butt"/>
<text transform="translate(516.75 611.1)" font-size="14.67" text-anchor="start"><tspan fill="#000">R</tspan><tspan fill="#000" dy="-5.4" font-size="11">2</tspan></text>
<line x1="535" y1="605.6" x2="553.85" y2="605.6" stroke="#fff" stroke-width="5.2" stroke-linecap="butt"/>
<line x1="535" y1="605.6" x2="553.85" y2="605.6" stroke="#000" stroke-width="1" stroke-linecap="butt"/>
<text transform="translate(499.15 646.7)" font-size="14.67" text-anchor="start"><tspan fill="#000">R</tspan><tspan fill="#000" dy="-6" font-size="11">1</tspan></text>
<line x1="508.3" y1="649.2" x2="518.5" y2="666.5" stroke="#fff" stroke-width="5.2" stroke-linecap="butt"/>
<line x1="508.3" y1="649.2" x2="518.5" y2="666.5" stroke="#000" stroke-width="1" stroke-linecap="butt"/>
</svg>
</body></html>
